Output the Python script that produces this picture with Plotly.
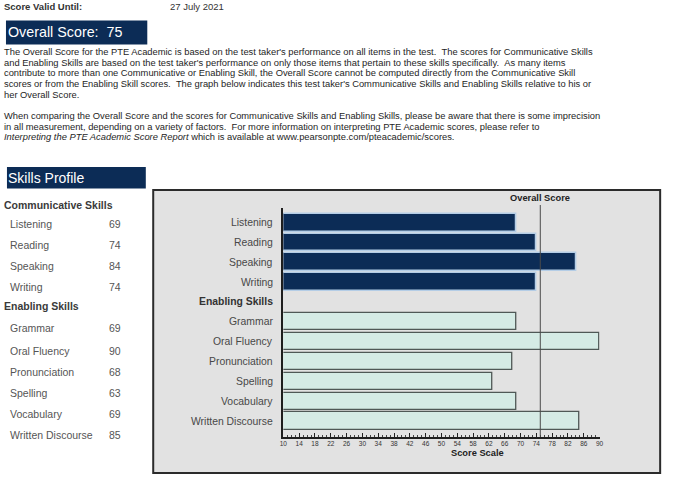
import plotly.graph_objects as go

# ---------------- data ----------------
comm_skills = ["Listening", "Reading", "Speaking", "Writing"]
comm_scores = [69, 74, 84, 74]
enab_skills = ["Grammar", "Oral Fluency", "Pronunciation", "Spelling", "Vocabulary", "Written Discourse"]
enab_scores = [69, 90, 68, 63, 69, 85]
overall_score = 75
comm_header = "Communicative Skills"
enab_header = "Enabling Skills"
score_ticks = list(range(10, 91, 4))
valid_until = "27 July 2021"

para1 = [
    "The Overall Score for the PTE Academic is based on the test taker's performance on all items in the test.  The scores for Communicative Skills",
    "and Enabling Skills are based on the test taker's performance on only those items that pertain to these skills specifically.  As many items",
    "contribute to more than one Communicative or Enabling Skill, the Overall Score cannot be computed directly from the Communicative Skill",
    "scores or from the Enabling Skill scores.  The graph below indicates this test taker's Communicative Skills and Enabling Skills relative to his or",
    "her Overall Score.",
]
para2 = [
    "When comparing the Overall Score and the scores for Communicative Skills and Enabling Skills, please be aware that there is some imprecision",
    "in all measurement, depending on a variety of factors.  For more information on interpreting PTE Academic scores, please refer to",
    "<i>Interpreting the PTE Academic Score Report</i> which is available at www.pearsonpte.com/pteacademic/scores.",
]

# ---------------- layout helpers ----------------
W, H = 677, 482
FONT = "Liberation Sans, Arial, sans-serif"
NAVY = "#0c2c56"
DX = -3.5  # compensation for annotation inner offset


def X(px):
    return px / W


def Y(py):
    return 1 - py / H


def sp(t):
    return t.replace("  ", " &nbsp;")


def label(text, px, py, size, color, anchor="left", xref="paper", yref="paper"):
    return dict(text=text, x=px, y=py, xref=xref, yref=yref, xanchor=anchor, yanchor="middle",
                showarrow=False, borderpad=0, borderwidth=0,
                font=dict(family=FONT, size=size, color=color))


rows = [comm_header] + comm_skills + [enab_header] + enab_skills
ypos = {name: i for i, name in enumerate(rows)}

fig = go.Figure()
fig.add_trace(go.Bar(
    x=comm_scores, y=[ypos[s] for s in comm_skills], orientation="h",
    width=0.9, marker=dict(color=NAVY, line=dict(color="#b4cde6", width=1.6)),
    hoverinfo="skip", showlegend=False,
))
fig.add_trace(go.Bar(
    x=enab_scores, y=[ypos[s] for s in enab_skills], orientation="h",
    width=0.86, marker=dict(color="#d5ebe5", line=dict(color="#4f5856", width=1.3)),
    hoverinfo="skip", showlegend=False,
))

annotations = []
shapes = []

# top lines
annotations.append(label("<b>Score Valid Until:</b>", X(3 + DX), Y(7), 9.5, "#333"))
annotations.append(label(valid_until, X(171 + DX), Y(7), 9.5, "#333"))

# Overall score box
shapes.append(dict(type="rect", xref="paper", yref="paper", x0=X(2), x1=X(145), y0=Y(44.5), y1=Y(20.5),
                   fillcolor=NAVY, line=dict(width=0), layer="below"))
annotations.append(label(sp(f"Overall Score:  {overall_score}"), X(7.5 + DX), Y(32.5), 14.3, "white"))

# paragraphs
for i, line in enumerate(para1):
    annotations.append(label(sp(line), X(3 + DX), Y(52 + i * 10.7), 9.35, "#1e1e1e"))
for i, line in enumerate(para2):
    annotations.append(label(sp(line), X(3 + DX), Y(116 + i * 10.7), 9.35, "#1e1e1e"))

# Skills Profile box
shapes.append(dict(type="rect", xref="paper", yref="paper", x0=X(3), x1=X(143.5), y0=Y(188.5), y1=Y(167),
                   fillcolor=NAVY, line=dict(width=0), layer="below"))
annotations.append(label("Skills Profile", X(7.5 + DX), Y(177.5), 14, "white"))

# left table
table_rows = [(comm_header, None, 205)]
comm_y = [224, 245, 266, 286.5]
for s, v, yy in zip(comm_skills, comm_scores, comm_y):
    table_rows.append((s, v, yy))
table_rows.append((enab_header, None, 305.5))
enab_y = [327.5, 350.5, 372, 392.5, 414, 434.5]
for s, v, yy in zip(enab_skills, enab_scores, enab_y):
    table_rows.append((s, v, yy))
for name, val, yy in table_rows:
    if val is None:
        annotations.append(label(f"<b>{name}</b>", X(3 + DX), Y(yy), 10.5, "#3a3a3a"))
    else:
        annotations.append(label(name, X(10 + DX), Y(yy), 10.5, "#555"))
        annotations.append(label(str(val), X(115 - 3), Y(yy), 10.5, "#555", anchor="center"))

# chart frame
shapes.append(dict(type="rect", xref="paper", yref="paper", x0=X(151), x1=X(664), y0=Y(473), y1=Y(190),
                   fillcolor="#e2e2e2", line=dict(color="#2b2b2b", width=2), layer="below"))

# row labels in chart
for name in rows:
    is_head = name in (comm_header, enab_header)
    annotations.append(label(f"<b>{name}</b>" if is_head else name, X(272), ypos[name], 10.4,
                             "#333" if is_head else "#484848", anchor="right", yref="y"))

# overall score line + labels
shapes.append(dict(type="line", xref="x", yref="paper", x0=overall_score, x1=overall_score,
                   y0=Y(436.7), y1=Y(205), line=dict(color="#4a4a4a", width=1), layer="above"))
annotations.append(label("<b>Overall Score</b>", overall_score, Y(198), 9.3, "#222", anchor="center", xref="x"))
annotations.append(label("<b>Score Scale</b>", X(478.7), Y(453), 9.3, "#222", anchor="center"))

fig.update_layout(
    width=W, height=H, margin=dict(l=0, r=0, t=0, b=0),
    paper_bgcolor="white", plot_bgcolor="rgba(0,0,0,0)",
    bargap=0, barmode="overlay",
    shapes=shapes, annotations=annotations,
    xaxis=dict(domain=[X(282.7), X(602.7)], range=[10, 90], tickmode="array", tickvals=score_ticks,
               ticktext=[str(t) for t in score_ticks], ticks="inside", ticklen=4, tickwidth=1,
               tickcolor="#222", minor=dict(dtick=1, ticks="inside", ticklen=2, tickcolor="#444"),
               tickfont=dict(family=FONT, size=6.5, color="#333"), showgrid=False, zeroline=False,
               showline=True, linecolor="#1e1e1e", linewidth=1.5, fixedrange=True),
    yaxis=dict(domain=[Y(436.7), Y(208)], range=[11.79, 0.264], showticklabels=False, ticks="",
               showgrid=False, zeroline=False, showline=True, linecolor="#1e1e1e", linewidth=1.5,
               fixedrange=True),
)

fig.write_html("out.html", config={"displayModeBar": False},
               post_script="document.body.style.margin='0';document.body.style.padding='0';")
